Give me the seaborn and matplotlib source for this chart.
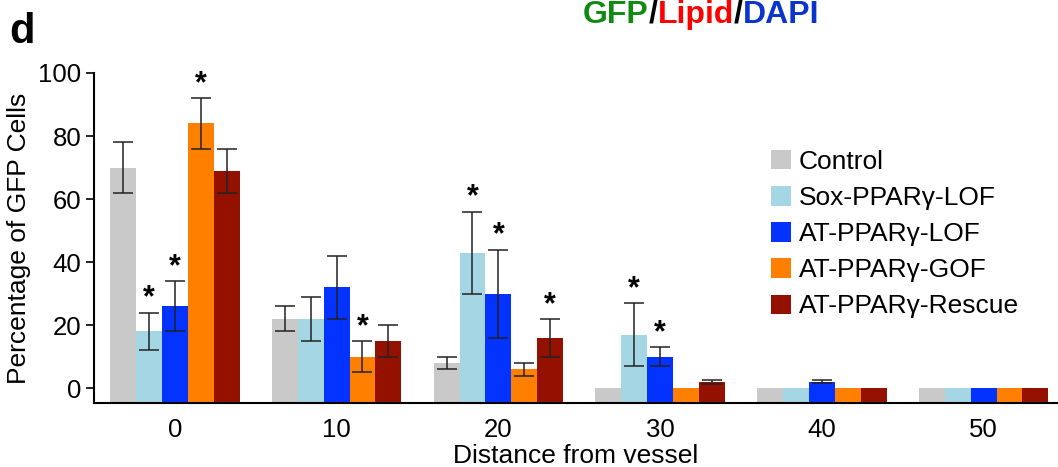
import pandas as pd
import matplotlib.pyplot as plt
import seaborn as sns
from matplotlib.patches import Patch

distances = ['0', '10', '20', '30', '40', '50']
groups = ['Control', 'Sox-PPARγ-LOF', 'AT-PPARγ-LOF', 'AT-PPARγ-GOF', 'AT-PPARγ-Rescue']
colors = ['#c9c9c9', '#a5d6e4', '#0433ff', '#ff7f00', '#941100']

control = [70, 22, 8, 0, 0, 0]
sox_lof = [18, 22, 43, 17, 0, 0]
at_lof = [26, 32, 30, 10, 2, 0]
at_gof = [84, 10, 6, 0, 0, 0]
at_rescue = [69, 15, 16, 2, 0, 0]

control_err = [8, 4, 2, 0, 0, 0]
sox_lof_err = [6, 7, 13, 10, 0, 0]
at_lof_err = [8, 10, 14, 3, 0.5, 0]
at_gof_err = [8, 5, 2, 0, 0, 0]
at_rescue_err = [7, 5, 6, 0.7, 0, 0]

# 1 = asterisk above the bar
control_sig = [0, 0, 0, 0, 0, 0]
sox_lof_sig = [1, 0, 1, 1, 0, 0]
at_lof_sig = [1, 0, 1, 1, 0, 0]
at_gof_sig = [1, 1, 0, 0, 0, 0]
at_rescue_sig = [0, 0, 1, 0, 0, 0]

values = [control, sox_lof, at_lof, at_gof, at_rescue]
errors = [control_err, sox_lof_err, at_lof_err, at_gof_err, at_rescue_err]
sigs = [control_sig, sox_lof_sig, at_lof_sig, at_gof_sig, at_rescue_sig]

rows = []
for g, vals in zip(groups, values):
    for d, v in zip(distances, vals):
        rows.append({'Distance': d, 'Group': g, 'Value': v})
df = pd.DataFrame(rows)

sns.set_style('ticks', {'text.color': 'black', 'axes.labelcolor': 'black',
                        'xtick.color': 'black', 'ytick.color': 'black'})
plt.rcParams['font.family'] = ['Liberation Sans', 'DejaVu Sans']

fig = plt.figure(figsize=(10.58, 4.67), dpi=100)
ax = fig.add_axes([0.0888, 0.137, 0.9112, 0.7067])

sns.barplot(data=df, x='Distance', y='Value', hue='Group', order=distances,
            hue_order=groups, palette=colors, errorbar=None, width=0.8,
            saturation=1, legend=False, ax=ax)

ybot = -4.7
ax.set_ylim(ybot, 100)
ax.set_xlim(-0.5, 5.46)

for cont, errs, sig in zip(ax.containers, errors, sigs):
    for rect, e, s in zip(cont.patches, errs, sig):
        h = rect.get_height()
        rect.set_y(ybot)
        rect.set_height(h - ybot)
        rect.set_linewidth(0)
        xc = rect.get_x() + rect.get_width() / 2
        if e > 0:
            ax.errorbar(xc, h, yerr=e, fmt='none', ecolor='#222222',
                        elinewidth=1.1, capsize=7, capthick=1.1)
        if s:
            ax.text(xc, h + e - 0.3, '*', ha='center', va='bottom',
                    fontsize=22, fontweight='bold', color='black')

ax.set_yticks([0, 20, 40, 60, 80, 100])
ax.tick_params(axis='y', labelsize=18.5, length=6, width=1.2, pad=3)
ax.tick_params(axis='x', labelsize=18.5, length=0, pad=11)
ax.set_xlabel('Distance from vessel', fontsize=19, labelpad=1)
ax.set_ylabel('Percentage of GFP Cells', fontsize=19, labelpad=5)
sns.despine(ax=ax)
for sp in ['left', 'bottom']:
    ax.spines[sp].set_linewidth(1.5)
    ax.spines[sp].set_color('black')
ax.spines['left'].set_bounds(ybot, 100)

handles = [Patch(facecolor=c, edgecolor='none') for c in colors]
fig.legend(handles, groups, loc='upper left', bbox_to_anchor=(0.729, 0.679),
           frameon=False, fontsize=19, handlelength=0.76, handleheight=0.76,
           handletextpad=0.28, labelspacing=0.46, borderpad=0, borderaxespad=0)

fig.text(0.009, 0.908, 'd', fontsize=30, fontweight='bold', va='baseline')

# coloured stain title
parts = [('GFP', '#118a11'), ('/', 'black'), ('Lipid', '#ff0000'),
         ('/', 'black'), ('DAPI', '#0a35cc')]
x = 0.551
renderer = fig.canvas.get_renderer()
for txt, col in parts:
    t = fig.text(x, 0.951, txt, color=col, fontsize=23, fontweight='bold',
                 va='baseline')
    bb = t.get_window_extent(renderer=renderer)
    x += bb.width / fig.bbox.width

fig.savefig('out.png', dpi=100)
